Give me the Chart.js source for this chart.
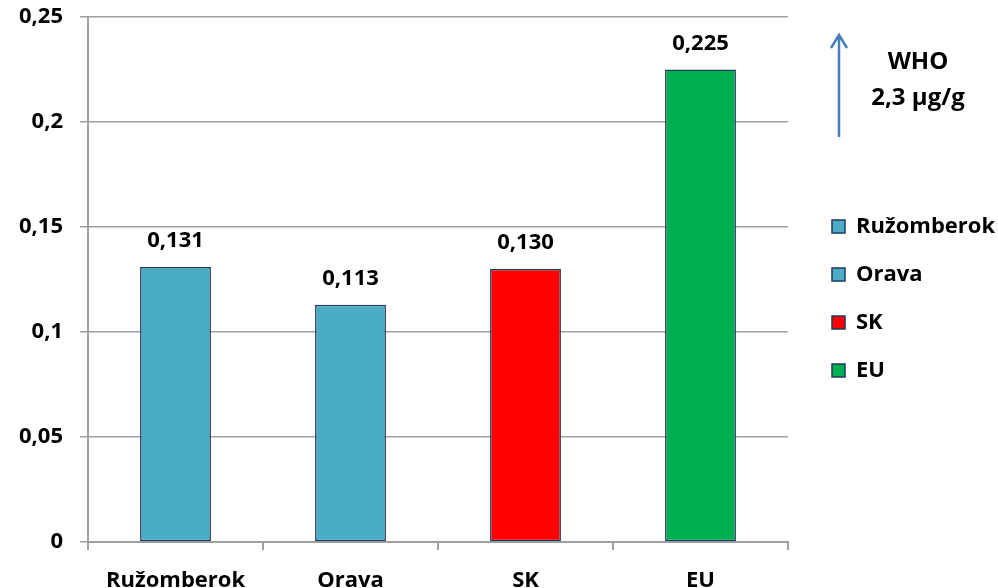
<!DOCTYPE html>
<html><head><meta charset="utf-8">
<script src="https://cdn.jsdelivr.net/npm/chart.js@4/dist/chart.umd.min.js"></script>
<style>html,body{margin:0;padding:0;background:#fff}#wrap{width:998px;height:588px;position:relative}</style>
</head><body><div id="wrap"><canvas id="c" width="998" height="588"></canvas></div>
<script>
const categories = ["Ružomberok", "Orava", "SK", "EU"];
const values = [0.131, 0.113, 0.130, 0.225];
const valueLabels = ["0,131", "0,113", "0,130", "0,225"];
const barColors = ["#4BACC6", "#4BACC6", "#FF0000", "#00B050"];
const annotationLines = ["WHO", "2,3 μg/g"];
const yTicks = [0, 0.05, 0.1, 0.15, 0.2, 0.25];

const FONT = "'Open Sans', sans-serif";
const BORDER = "#1F3A60";

function zeroPad(s) { s.paddingTop = 0; s.paddingBottom = 0; s.paddingLeft = 0; s.paddingRight = 0; }

const overlay = {
  id: "overlay",
  afterInit(chart) {
    const lg = chart.legend;
    if (lg && !lg._wrapped) {
      const f = lg.fit.bind(lg);
      lg.fit = function () { f(); this.width = 192; };
      lg._wrapped = true;
    }
  },
  afterLayout(chart) {
    const lg = chart.legend;
    if (lg) { lg.top -= 4; lg.bottom -= 4; }
  },
  afterDatasetsDraw(chart) {
    const ctx = chart.ctx;
    const meta = chart.getDatasetMeta(0);
    ctx.save();
    ctx.font = "bold 22px " + FONT;
    ctx.fillStyle = "#000";
    ctx.textAlign = "center";
    ctx.textBaseline = "middle";
    meta.data.forEach((bar, i) => {
      ctx.fillText(valueLabels[i], bar.x, bar.y - 26);
    });
    // WHO arrow
    const ax = 839, y1 = 137, y0 = 34;
    ctx.strokeStyle = "#4A7EBB";
    ctx.lineWidth = 2.5;
    ctx.beginPath();
    ctx.moveTo(ax, y1); ctx.lineTo(ax, y0 + 1);
    ctx.moveTo(ax - 8, y0 + 14); ctx.lineTo(ax, y0 + 1); ctx.lineTo(ax + 8, y0 + 14);
    ctx.stroke();
    ctx.font = "bold 24px " + FONT;
    ctx.fillStyle = "#000";
    ctx.fillText(annotationLines[0], 918, 62);
    ctx.fillText(annotationLines[1], 918, 98);
    ctx.restore();
  }
};

new Chart(document.getElementById("c"), {
  type: "bar",
  data: {
    labels: categories,
    datasets: [{
      data: values,
      backgroundColor: barColors,
      borderColor: BORDER,
      borderWidth: 1.5,
      borderSkipped: false,
      barPercentage: 0.405,
      categoryPercentage: 1.0
    }]
  },
  options: {
    responsive: false,
    animation: false,
    devicePixelRatio: 1,
    layout: { padding: { top: 17, right: 0, left: 0, bottom: 0 } },
    plugins: {
      tooltip: { enabled: false },
      legend: {
        position: "right",
        align: "center",
        labels: {
          boxWidth: 13,
          boxHeight: 13,
          padding: 26,
          color: "#000",
          font: { family: FONT, size: 22, weight: "bold" },
          generateLabels(chart) {
            return categories.map((c, i) => ({
              text: c,
              fillStyle: barColors[i],
              strokeStyle: BORDER,
              lineWidth: 1.5,
              hidden: false,
              index: i,
              datasetIndex: 0
            }));
          }
        },
        onClick() {}
      }
    },
    scales: {
      x: {
        grid: { offset: true, drawOnChartArea: false, color: "#A0A0A0", lineWidth: 2, tickLength: 8 },
        border: { color: "#A0A0A0", width: 2 },
        ticks: { color: "#000", font: { family: FONT, size: 22, weight: "bold" }, padding: 18, maxRotation: 0 },
        afterFit(s) { s.height = 46; zeroPad(s); }
      },
      y: {
        min: 0, max: 0.25,
        afterBuildTicks(s) { s.ticks = yTicks.map(v => ({ value: v })); },
        grid: { color: "#A0A0A0", lineWidth: 1.5, tickLength: 8 },
        border: { color: "#A0A0A0", width: 2 },
        ticks: {
          color: "#000",
          font: { family: FONT, size: 22, weight: "bold" },
          padding: 17,
          callback: v => String(Number(v.toFixed(2))).replace(".", ",")
        },
        afterFit(s) { s.width = 88; zeroPad(s); }
      },
      gap: {
        position: "right",
        display: true,
        grid: { display: false },
        border: { display: false },
        ticks: { display: false },
        afterFit(s) { s.width = 18; zeroPad(s); }
      }
    }
  },
  plugins: [overlay]
});
</script></body></html>
